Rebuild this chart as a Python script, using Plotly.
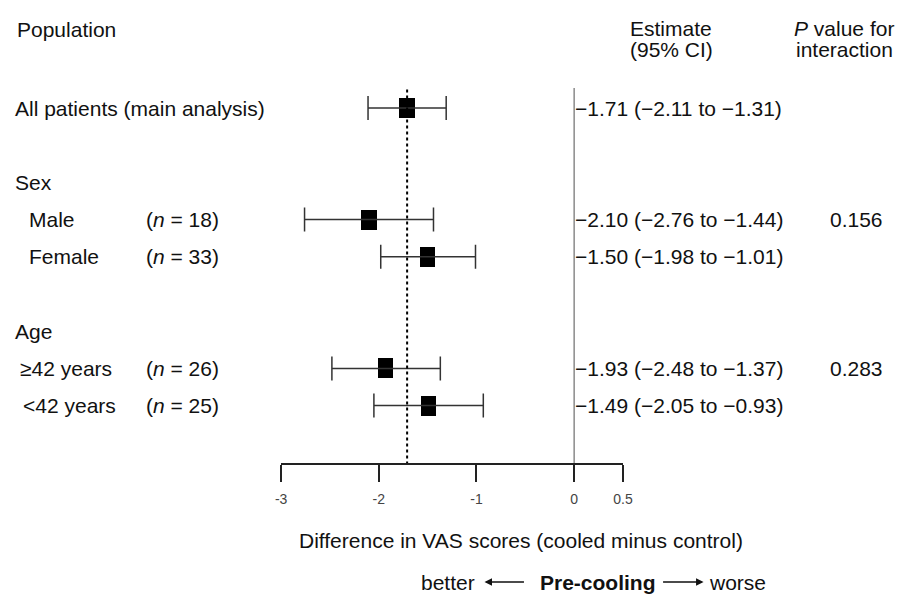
import plotly.graph_objects as go

# ---- data ----
subgroups = ["All patients (main analysis)", "Male", "Female", "\u226542 years", "<42 years"]
n_values = [None, 18, 33, 26, 25]
estimate = [-1.71, -2.10, -1.50, -1.93, -1.49]
ci_low = [-2.11, -2.76, -1.98, -2.48, -2.05]
ci_high = [-1.31, -1.44, -1.01, -1.37, -0.93]
group_headers = ["Sex", "Age"]
p_interaction = ["0.156", "0.283"]
tick_values = [-3, -2, -1, 0, 0.5]
tick_labels = ["-3", "-2", "-1", "0", "0.5"]

# ---- layout helpers (row positions, pixel geometry) ----
W, H = 914, 594
row_pos = [0, 3, 4, 7, 8]
header_rows = [2, 6]
p_rows = [3, 7]
label_x = [10, 24, 24, 15, 18]
ROW0_PX, ROW_PX = 108, 37.2
AXIS_PX = 463
y_top = -ROW0_PX / ROW_PX
y_bot = (AXIS_PX - ROW0_PX) / ROW_PX

FONT = "Liberation Sans, Arial, sans-serif"
FS = 21
TXT = "#111111"

def px(x):
    return x / W

def py(y):
    return 1 - y / H

def fmt(v):
    return ("\u2212" if v < 0 else "") + f"{abs(v):.2f}"

fig = go.Figure()

# confidence intervals
fig.add_trace(go.Scatter(
    x=estimate, y=row_pos, mode="markers",
    marker=dict(size=1, color="rgba(0,0,0,0)"),
    error_x=dict(type="data", symmetric=False,
                 array=[h - e for h, e in zip(ci_high, estimate)],
                 arrayminus=[e - l for e, l in zip(estimate, ci_low)],
                 color="#333333", thickness=1.5, width=12),
    hoverinfo="skip", showlegend=False,
))

# point estimates as filled rectangles
hw = 0.079
fig.add_trace(go.Bar(
    y=row_pos, x=[2 * hw] * len(estimate), base=[e - hw for e in estimate],
    orientation="h", width=0.54, marker=dict(color="black", line=dict(width=0)),
    hoverinfo="skip", showlegend=False,
))

# reference lines
fig.add_shape(type="line", xref="x", yref="y", x0=0, x1=0, y0=-0.54, y1=y_bot,
              line=dict(color="#8a8a8a", width=1.5))
fig.add_shape(type="line", xref="x", yref="y", x0=estimate[0], x1=estimate[0],
              y0=-0.5, y1=y_bot, line=dict(color="black", width=2, dash="dot"))

ann = []
def text(x, y, s, anchor="left", yref="y", size=FS, color=TXT):
    ann.append(dict(x=x, y=y, xref="paper", yref=yref, text=s, showarrow=False,
                    xanchor=anchor, yanchor="middle",
                    font=dict(family=FONT, size=size, color=color)))

# headers
text(px(9), -2.1, "Population")
text(px(677), py(28), "Estimate", anchor="center", yref="paper")
text(px(677), py(49), "(95% CI)", anchor="center", yref="paper")
text(px(853), py(28), "<i>P</i> value for", anchor="center", yref="paper")
text(px(853), py(49), "interaction", anchor="center", yref="paper")

for s, r in zip(group_headers, header_rows):
    text(px(7), r, s)

for s, n, r, lx, e, lo, hi in zip(subgroups, n_values, row_pos, label_x, estimate, ci_low, ci_high):
    text(px(lx - 3), r, s)
    if n is not None:
        text(px(140), r, f"(<i>n</i> = {n})")
    text(px(577), r, f"{fmt(e)} ({fmt(lo)} to {fmt(hi)})")

for p, r in zip(p_interaction, p_rows):
    text(px(866), r, p, anchor="center")

# axis title and direction labels
text(px(524), py(540), "Difference in VAS scores (cooled minus control)", anchor="center", yref="paper")
text(px(450), py(582), "better", anchor="center", yref="paper")
text(px(603), py(582), "<b>Pre-cooling</b>", anchor="center", yref="paper")
text(px(745), py(582), "worse", anchor="center", yref="paper")
for tip, tail in [(487, 528), (710, 668)]:
    ann.append(dict(x=px(tip), y=py(582), xref="paper", yref="paper", text="",
                    showarrow=True, ax=tail - tip, ay=0, arrowhead=2, arrowsize=1,
                    arrowwidth=1.5, arrowcolor="#111111"))

fig.update_layout(
    width=W, height=H, margin=dict(l=0, r=0, t=0, b=0),
    paper_bgcolor="white", plot_bgcolor="white",
    annotations=ann, bargap=0,
    font=dict(family=FONT, size=FS, color=TXT),
    xaxis=dict(domain=[px(280), px(628)], range=[-3, 0.5],
               showgrid=False, zeroline=False, showline=True, linecolor="#222222",
               linewidth=1.5, ticks="outside", ticklen=17, tickwidth=1.5,
               tickcolor="#222222", tickvals=tick_values, ticktext=tick_labels,
               tickfont=dict(family=FONT, size=14, color="#444444"),
               ticklabelstandoff=5, fixedrange=True),
    yaxis=dict(domain=[py(AXIS_PX), 1], range=[y_bot, y_top], showgrid=False,
               zeroline=False, showline=False, showticklabels=False, ticks="",
               fixedrange=True),
)

fig.write_html(
    "out.html",
    config={"displayModeBar": False},
    post_script="document.body.style.margin='0';document.documentElement.style.overflow='hidden';",
)
